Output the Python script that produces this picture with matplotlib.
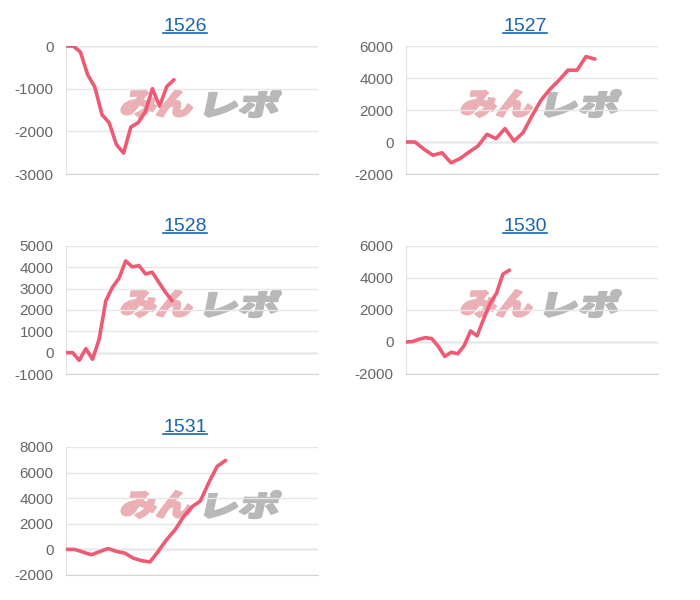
import matplotlib
matplotlib.use('Agg')
import matplotlib.pyplot as plt
from matplotlib.textpath import TextPath
from matplotlib.font_manager import FontProperties
from matplotlib.patches import PathPatch
from matplotlib.transforms import Affine2D, IdentityTransform
from matplotlib.lines import Line2D

plt.rcParams['axes.unicode_minus'] = False

# machine numbers and their cumulative coin difference
titles = ['1526', '1527', '1528', '1530', '1531']

values_1526 = [0, 0, -140, -670, -960, -1610, -1800, -2310, -2510, -1900,
               -1800, -1550, -1000, -1410, -950, -790]
values_1527 = [0, 0, -450, -830, -670, -1300, -1040, -630, -250, 480, 210,
               840, 60, 580, 1630, 2610, 3300, 3860, 4490, 4490, 5340, 5180]
values_1528 = [0, 0, -360, 190, -310, 630, 2430, 3060, 3490, 4300, 4020,
               4080, 3690, 3770, 3300, 2830, 2430]
values_1530 = [0, 30, 170, 270, 210, -280, -900, -640, -740, -230, 690, 380,
               1420, 2400, 3040, 4240, 4490]
values_1531 = [0, 0, -200, -420, -180, 70, -160, -290, -680, -880, -980,
               -130, 780, 1540, 2560, 3330, 3780, 5220, 6490, 6950]

series = [values_1526, values_1527, values_1528, values_1530, values_1531]
y_ranges = [(-3000, 0, 1000), (-2000, 6000, 2000), (-1000, 5000, 1000),
            (-2000, 6000, 2000), (-2000, 8000, 2000)]
x_spans = [35, 28, 38, 39, 30]

# panel placement in pixels (left, top)
W, H = 700, 600
panels = [(66, 46), (406, 46), (66, 246), (406, 246), (66, 447)]
AX_W, AX_H = 252, 128

LINE_COLOR = '#ee5a74'
TITLE_COLOR = '#1a64b0'


def watermark(ax, left, top):
    """Draw the slanted 'みんレポ' logo behind the line (pixel coords)."""
    prop = FontProperties(family='Noto Sans CJK JP', weight='heavy')
    parts = [('みん', '#eab0b5', 54, 76), ('レポ', '#b8b8b8', 138, 78)]
    for text, color, dx, w in parts:
        path = TextPath((0, 0), text, size=100, prop=prop)
        ext = path.get_extents()
        h = 27
        skew = 6
        trans = (Affine2D()
                 .translate(-ext.x0, -ext.y0)
                 .scale((w - skew) / ext.width, h / ext.height)
                 .skew_deg(12, 0)
                 .translate(left + dx, H - (top + 44) - h))
        patch = PathPatch(trans.transform_path(path), facecolor=color,
                          edgecolor=color, lw=1.6, joinstyle='round',
                          transform=IdentityTransform(), zorder=1.5)
        ax.add_artist(patch)


fig = plt.figure(figsize=(7, 6), dpi=100)

for name, vals, (ymin, ymax, step), span, (left, top) in zip(
        titles, series, y_ranges, x_spans, panels):
    ax = fig.add_axes([left / W, 1 - (top + AX_H) / H, AX_W / W, AX_H / H])
    ax.plot(range(len(vals)), vals, color=LINE_COLOR, lw=2.6, zorder=3,
            solid_joinstyle='round', solid_capstyle='round')
    ax.set_xlim(0, span)
    ax.set_ylim(ymin, ymax)
    ax.set_yticks(range(ymin, ymax + 1, step))
    ax.set_xticks([])
    ax.tick_params(axis='y', length=0, pad=9, labelsize=11,
                   labelcolor='#666666')
    for lab in ax.get_yticklabels():
        lab.set_fontfamily('Liberation Sans')
    ax.grid(axis='y', color='#e6e6e6', lw=1)
    ax.axhline(0, color='#c4c4c4', lw=1, zorder=1)
    for s in ['top', 'right']:
        ax.spines[s].set_visible(False)
    ax.spines['left'].set_color('#e2e2e2')
    ax.spines['bottom'].set_color('#d4d4d4')
    watermark(ax, left, top)

    # underlined blue title
    cx = left + 119
    base = top - 15
    fig.text(cx / W, 1 - base / H, name, color=TITLE_COLOR, fontsize=14,
             family='Liberation Sans', ha='center', va='baseline')
    uy = 1 - (top - 13) / H
    fig.add_artist(Line2D([(cx - 22) / W, (cx + 22) / W], [uy, uy],
                          color=TITLE_COLOR, lw=1.2,
                          transform=fig.transFigure))

fig.savefig('out.png', dpi=100, facecolor='white')
